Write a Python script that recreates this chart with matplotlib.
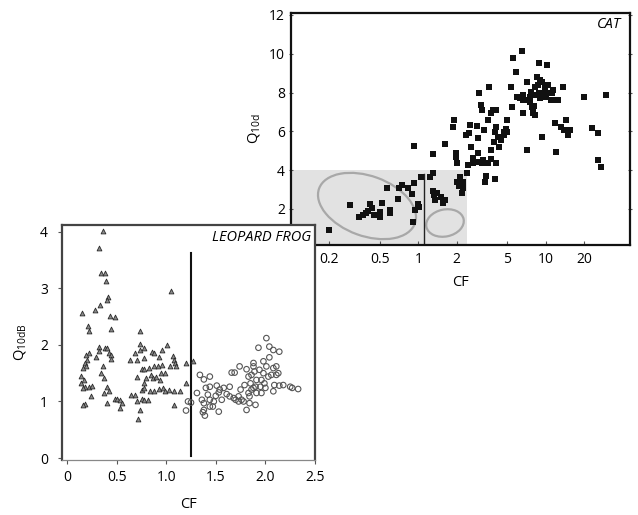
import matplotlib
matplotlib.use("Agg")
import matplotlib.pyplot as plt
from matplotlib.patches import Ellipse

plt.rcParams['font.family'] = ['Open Sans', 'DejaVu Sans']
plt.rcParams['mathtext.fontset'] = 'custom'
plt.rcParams['mathtext.rm'] = 'Open Sans'

# cat data (CF in kHz, Q10)
cat_cf = [0.2, 0.29, 0.34, 0.37, 0.39, 0.40, 0.42, 0.43, 0.45, 0.50, 0.52, 0.57, 0.50, 0.60,
          0.60, 0.69, 0.71, 0.75, 0.83, 0.89, 0.93, 0.92, 0.95, 1.0, 1.02, 0.91, 1.05, 1.24,
          1.3, 1.3, 1.3, 1.32, 1.35, 1.41, 1.5, 1.55, 1.61, 1.61, 1.9, 1.88, 1.96, 1.99, 2.0,
          2.0, 2.1, 2.13, 2.2, 2.26, 2.26, 2.4, 2.45, 2.39, 2.5, 2.53, 2.6, 2.7, 2.7, 2.9,
          2.97, 2.9, 3.0, 3.1, 3.15, 2.97, 3.15, 3.2, 3.3, 3.5, 3.5, 3.35, 3.4, 3.6, 3.7, 3.7,
          3.7, 3.85, 3.95, 4.0, 4.1, 4.1, 4.1, 4.0, 4.2, 4.3, 4.5, 4.5, 4.7, 4.75, 4.85, 5.0,
          5.0, 5.3, 5.4, 5.5, 5.8, 6.5, 6.0, 6.3, 6.6, 6.7, 6.7, 7.1, 7.2, 7.4, 7.5, 7.6, 7.7,
          7.8, 7.9, 8.0, 8.1, 8.3, 8.3, 8.4, 8.6, 8.8, 8.7, 8.9, 9.0, 9.1, 9.3, 9.4, 9.6, 9.7,
          9.9, 10.1, 10.3, 10.5, 10.6, 11.0, 11.2, 11.5, 11.6, 11.8, 12.1, 12.6, 13.1, 13.6,
          14.0, 14.5, 14.9, 15.6, 20.2, 23.3, 25.6, 26.0, 27.3, 29.6]
cat_q = [0.92, 2.2, 1.57, 1.69, 1.78, 1.91, 2.26, 2.03, 1.69, 1.57, 2.33, 3.06, 1.86, 1.78,
         1.95, 2.5, 3.07, 3.24, 3.07, 2.77, 3.32, 5.25, 1.95, 2.26, 2.12, 1.35, 3.63, 3.67,
         3.84, 4.83, 2.9, 2.72, 2.46, 2.84, 2.64, 2.33, 2.46, 5.35, 6.59, 6.24, 4.9, 4.7, 4.39,
         3.41, 3.19, 3.67, 2.8, 3.07, 3.41, 3.84, 4.27, 5.81, 5.9, 6.33, 5.21, 4.61, 4.39, 4.44,
         4.87, 6.28, 8.0, 7.36, 7.1, 5.64, 4.35, 4.53, 6.07, 6.59, 4.35, 3.41, 3.7, 8.27, 5.04,
         4.56, 6.93, 7.1, 5.47, 5.99, 6.24, 7.1, 4.35, 3.53, 5.73, 5.21, 5.56, 5.73, 5.81, 5.99,
         6.1, 6.59, 5.94, 8.27, 7.27, 9.8, 9.08, 10.16, 7.76, 7.7, 7.88, 7.62, 6.93, 8.56, 5.04,
         7.62, 7.53, 7.79, 8.05, 7.27, 7.1, 6.93, 7.3, 8.3, 6.85, 7.88, 8.82, 9.54, 8.4, 7.96,
         8.65, 7.7, 5.73, 8.56, 7.96, 7.79, 8.22, 7.79, 9.42, 8.4, 8.0, 7.62, 7.96, 8.13, 7.62,
         6.42, 4.96, 7.62, 6.24, 8.27, 6.07, 6.59, 5.81, 6.07, 7.79, 6.16, 5.9, 4.53, 4.18, 7.88]

# leopard frog, low CF group (triangles)
frog_lo_cf = [0.36, 0.32, 0.34, 0.38, 0.39, 0.41, 0.40, 0.33, 0.28, 0.15, 0.21, 0.22, 0.43, 0.48,
              0.44, 0.32, 0.32, 0.38, 0.40, 0.42, 0.44, 0.44, 0.22, 0.19, 0.20, 0.18, 0.19, 0.16,
              0.29, 0.36, 0.34, 0.37, 0.14, 0.17, 0.14, 0.18, 0.22, 0.16, 0.25, 0.24, 0.18, 0.16,
              0.40, 0.37, 0.42, 0.40, 0.48, 0.50, 0.53, 0.55, 0.53, 0.64, 0.69, 0.74, 0.78, 0.74,
              0.74, 0.71, 0.78, 0.86, 0.88, 0.93, 0.96, 1.01, 0.96, 0.88, 0.92, 0.95, 0.99, 1.04,
              1.07, 1.08, 1.09, 1.10, 1.05, 0.76, 0.78, 0.83, 0.85, 0.87, 0.90, 0.94, 0.80, 0.78,
              0.76, 0.78, 0.84, 0.88, 0.93, 0.97, 0.99, 1.03, 1.08, 1.14, 0.71, 0.69, 0.76, 0.78,
              0.82, 0.71, 0.74, 0.72, 1.08, 1.20, 1.20, 1.27, 0.65]
frog_lo_q = [4.02, 3.72, 3.28, 3.28, 3.13, 2.85, 2.79, 2.70, 2.62, 2.56, 2.34, 2.25, 2.51, 2.49,
             2.29, 1.97, 1.90, 1.94, 1.95, 1.85, 1.82, 1.75, 1.85, 1.82, 1.74, 1.68, 1.62, 1.59,
             1.79, 1.62, 1.50, 1.41, 1.45, 1.38, 1.32, 1.26, 1.26, 1.24, 1.28, 1.09, 0.96, 0.94,
             1.26, 1.15, 1.18, 0.97, 1.05, 1.05, 1.03, 0.98, 0.88, 1.74, 1.85, 1.91, 1.94, 2.24,
             2.02, 1.74, 1.76, 1.88, 1.85, 1.79, 1.91, 2.00, 1.65, 1.62, 1.63, 1.50, 1.50, 1.62,
             1.81, 1.74, 1.68, 1.62, 2.95, 1.57, 1.57, 1.59, 1.47, 1.41, 1.44, 1.38, 1.41, 1.32,
             1.21, 1.24, 1.19, 1.19, 1.22, 1.24, 1.18, 1.21, 1.18, 1.18, 1.44, 1.12, 1.05, 1.03,
             1.03, 1.00, 0.85, 0.69, 0.94, 1.68, 1.32, 1.71, 1.12]

# leopard frog, high CF group (open circles)
frog_hi_cf = [1.20, 1.22, 1.25, 1.31, 1.34, 1.38, 1.44, 1.36, 1.38, 1.38, 1.37, 1.40, 1.42, 1.44,
              1.44, 1.39, 1.47, 1.48, 1.50, 1.51, 1.53, 1.54, 1.56, 1.53, 1.58, 1.61, 1.64, 1.66,
              1.69, 1.68, 1.70, 1.73, 1.74, 1.75, 1.76, 1.78, 1.81, 1.83, 1.83, 1.84, 1.84, 1.81,
              1.85, 1.86, 1.88, 1.88, 1.89, 1.90, 1.91, 1.91, 1.90, 1.93, 1.94, 1.95, 1.96, 1.98,
              1.98, 1.99, 2.00, 2.01, 2.01, 2.03, 2.04, 2.04, 2.06, 2.08, 2.08, 2.09, 2.11, 2.11,
              2.13, 2.14, 2.08, 2.14, 2.18, 2.25, 2.27, 2.33, 1.96, 1.88, 1.79, 1.86, 1.73, 1.64,
              1.44]
frog_hi_q = [0.84, 1.00, 0.98, 1.15, 1.47, 1.39, 1.44, 1.03, 0.97, 0.85, 0.81, 1.24, 1.12, 1.03,
             0.91, 0.75, 0.91, 1.00, 1.10, 1.28, 0.82, 1.21, 1.03, 1.16, 1.24, 1.13, 1.09, 1.51,
             1.51, 1.06, 1.03, 1.09, 1.62, 1.21, 1.03, 1.00, 1.57, 1.44, 1.15, 1.09, 0.97, 0.85,
             1.32, 1.47, 1.62, 1.68, 1.53, 1.26, 1.38, 1.15, 0.94, 1.95, 1.56, 1.26, 1.38, 1.71,
             1.50, 1.32, 1.24, 2.12, 1.62, 1.44, 1.78, 1.97, 1.47, 1.91, 1.59, 1.29, 1.47, 1.62,
             1.50, 1.88, 1.18, 1.28, 1.29, 1.26, 1.24, 1.22, 1.15, 1.24, 1.29, 1.21, 1.00, 1.26,
             1.26]

cat_ticks = [0.2, 0.5, 1, 2, 5, 10, 20]
cat_ticklabels = ['0.2', '0.5', '1', '2', '5', '10', '20']
frog_ticks = [0, 0.5, 1.0, 1.5, 2.0, 2.5]
frog_ticklabels = ['0', '0.5', '1.0', '1.5', '2.0', '2.5']

W, H = 638, 515
fig = plt.figure(figsize=(W / 100, H / 100), dpi=100)

def px(x, y):
    # pixel position (from top-left) -> inches for dpi_scale_trans
    return (x / 100, (H - y) / 100)

# ---------- CAT panel ----------
ax = fig.add_axes([291 / W, 1 - 245 / H, 339 / W, 232 / H])
ax.set_zorder(1)
ax.set_xscale('log')
ax.set_xlim(0.1, 46)
ax.set_ylim(0.14, 12.1)
ax.fill_between([0.1, 2.4], 0, 4, color='#e2e2e2', lw=0, zorder=0)
ax.add_patch(Ellipse(px(367, 206), 1.02, 0.6, angle=-20, fill=False, ec='#a8a8a8', lw=1.6,
                     transform=fig.dpi_scale_trans, zorder=1))
ax.add_patch(Ellipse(px(445, 223), 0.38, 0.27, angle=12, fill=False, ec='#a8a8a8', lw=1.6,
                     transform=fig.dpi_scale_trans, zorder=1))
ax.plot([1.1, 1.1], [0.14, 3.78], color='#222222', lw=1.0, zorder=2)
ax.scatter(cat_cf, cat_q, marker='s', s=14, c='#111111', lw=0, zorder=3)
ax.set_xticks(cat_ticks)
ax.set_xticklabels(cat_ticklabels)
ax.xaxis.set_minor_locator(matplotlib.ticker.NullLocator())
ax.set_yticks([2, 4, 6, 8, 10, 12])
ax.tick_params(axis='both', labelsize=10, length=3, width=0.8, color='#555555')
ax.tick_params(axis='y', direction='inout', right=True, pad=3)
ax.tick_params(axis='x', direction='in', pad=5)
for s in ax.spines.values():
    s.set_linewidth(1.6)
    s.set_color('#111111')
ax.set_xlabel('CF', fontsize=10.5, labelpad=6)
ax.set_ylabel(r'$\mathregular{Q_{10d}}$', fontsize=10.5, labelpad=5)
ax.text(0.975, 0.95, 'CAT', transform=ax.transAxes, ha='right', va='center',
        fontsize=10.5, style='italic')

# ---------- LEOPARD FROG panel ----------
bx = fig.add_axes([62 / W, 1 - 460 / H, 253 / W, 235 / H])
bx.set_zorder(2)
bx.set_xlim(-0.05, 2.5)
bx.set_ylim(-0.035, 4.12)
bx.plot([1.25, 1.25], [0.04, 3.63], color='#111111', lw=1.5, zorder=2)
bx.scatter(frog_lo_cf, frog_lo_q, marker='^', s=12, facecolor='#8a8a8a',
           edgecolor='#2a2a2a', lw=0.6, zorder=3)
bx.scatter(frog_hi_cf, frog_hi_q, marker='o', s=16, facecolor='none',
           edgecolor='#555555', lw=0.8, zorder=3)
bx.set_xticks(frog_ticks)
bx.set_xticklabels(frog_ticklabels)
bx.set_yticks([0, 1, 2, 3, 4])
bx.tick_params(axis='both', labelsize=10, length=3, width=0.8, color='#555555')
bx.tick_params(axis='y', pad=7)
bx.tick_params(axis='x', pad=4)
for name, s in bx.spines.items():
    s.set_linewidth(1.6)
    s.set_color('#444444')
bx.spines['bottom'].set_linewidth(0.9)
bx.spines['bottom'].set_color('#888888')
bx.set_xlabel('CF', fontsize=10.5, labelpad=9)
bx.set_ylabel(r'$\mathregular{Q_{10dB}}$', fontsize=10.5, labelpad=9)
bx.text(0.985, 0.945, 'LEOPARD FROG', transform=bx.transAxes, ha='right', va='center',
        fontsize=10.5, style='italic')

fig.savefig('out.png', dpi=100)
